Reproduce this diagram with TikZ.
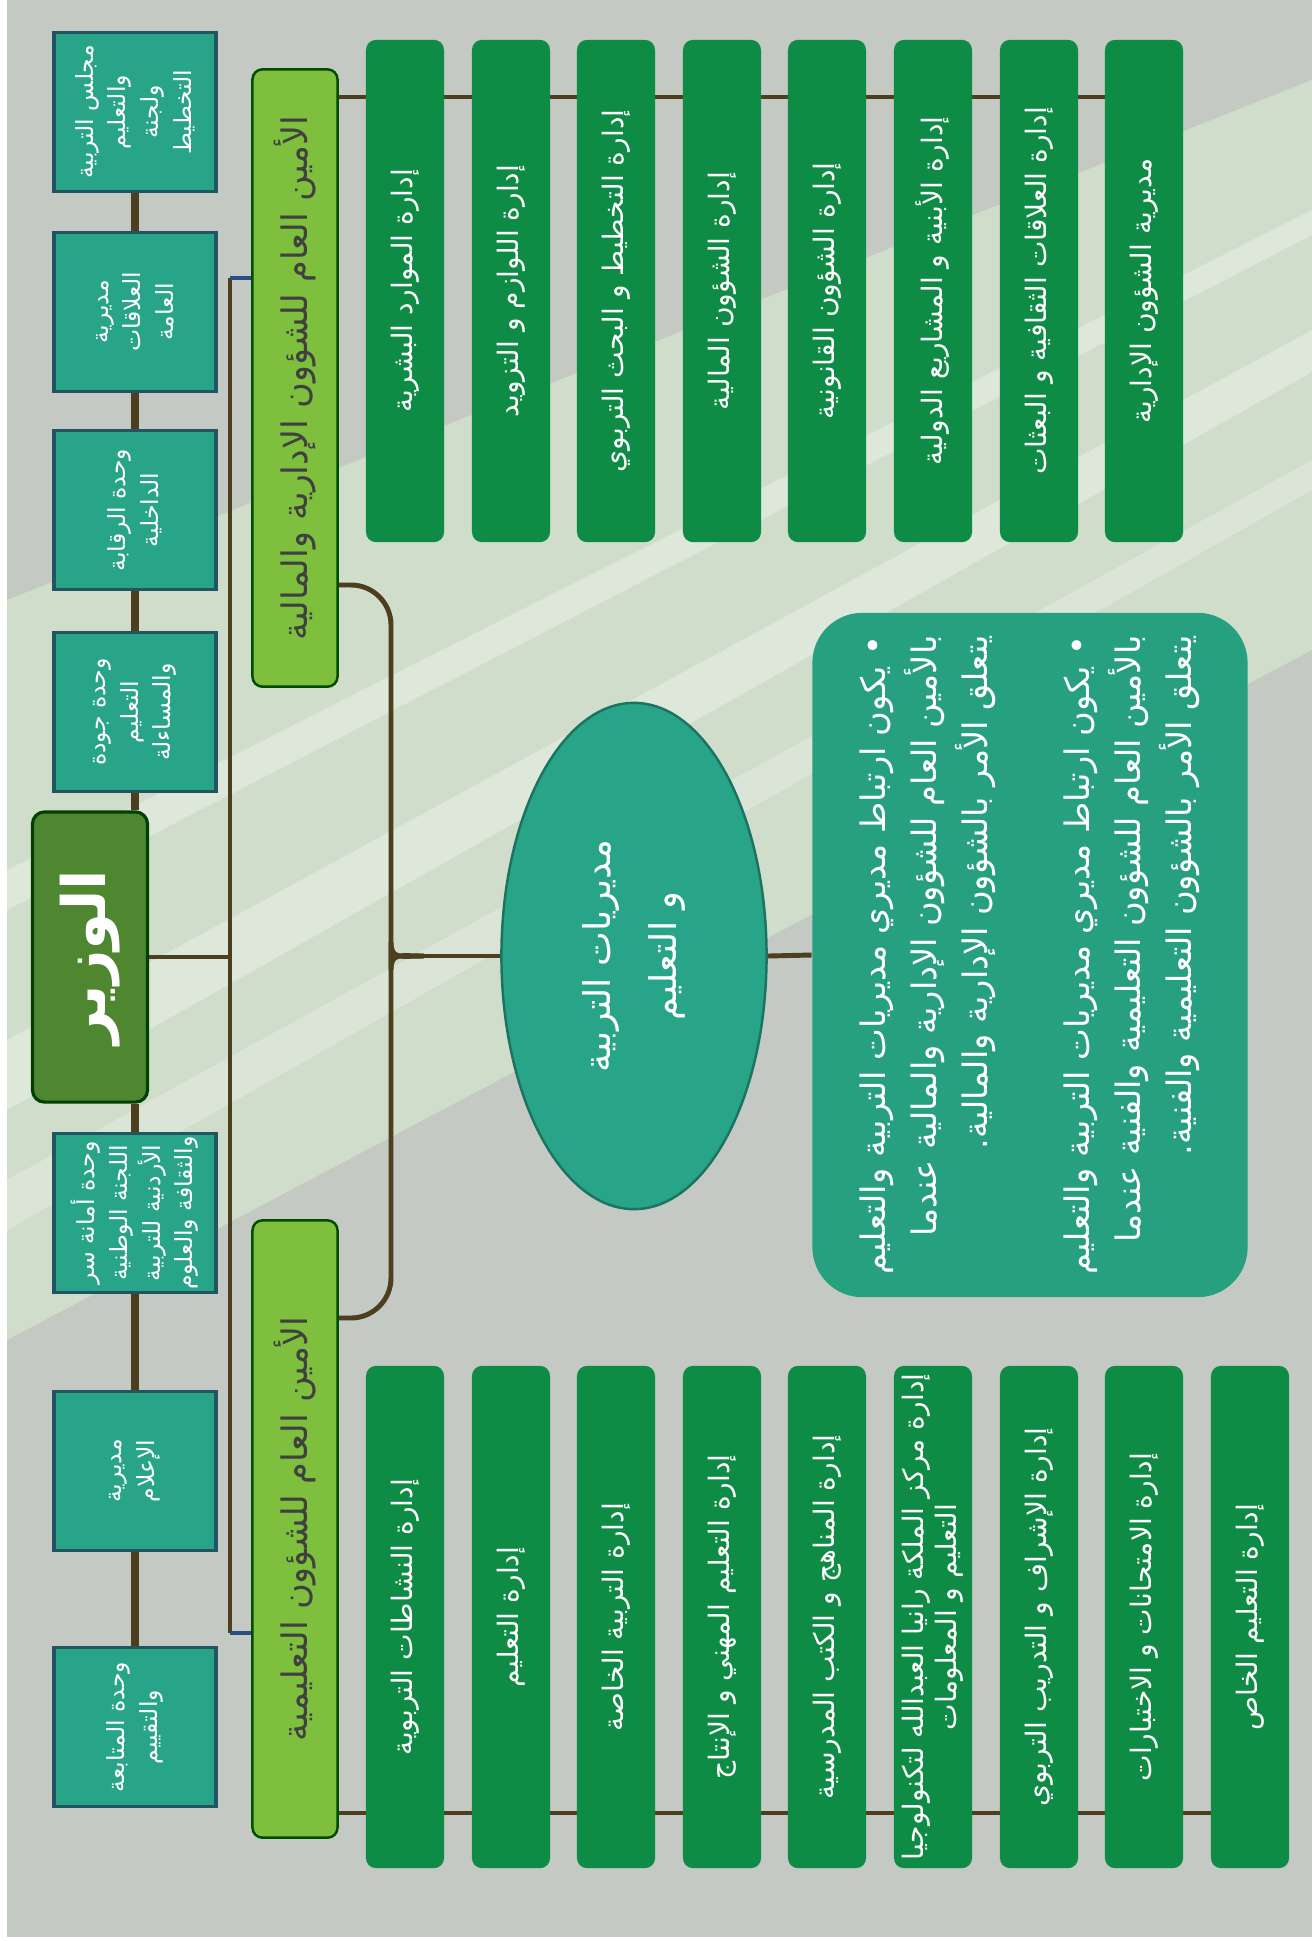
\documentclass[tikz,border=0pt]{standalone}
\usepackage{fontspec}
\usepackage{xcolor}
\usetikzlibrary{shapes.geometric,backgrounds}
\newfontfamily\arabicfont[Script=Arabic]{DejaVu Sans}
\TeXXeTstate=1
\newcommand{\ArLine}[1]{\beginR #1\endR}

\definecolor{BackGray}{RGB}{196,201,195}
\definecolor{BandGreen}{RGB}{212,230,206}
\definecolor{UnitTeal}{RGB}{40,164,137}
\definecolor{UnitEdge}{RGB}{34,84,98}
\definecolor{MinisterGreen}{RGB}{78,135,48}
\definecolor{SecGreen}{RGB}{126,192,62}
\definecolor{DeptGreen}{RGB}{14,139,68}
\definecolor{LinkBrown}{RGB}{76,62,30}
\definecolor{LinkBlue}{RGB}{40,80,130}
\definecolor{NoteTeal}{RGB}{38,160,126}

\begin{document}
\begin{tikzpicture}[x=0.01cm,y=-0.01cm,
  unit/.style={draw=UnitEdge,line width=0.9pt,fill=UnitTeal,text=white,rotate=90,align=center,
    minimum width=1.59cm,minimum height=1.62cm,inner sep=0pt,font=\arabicfont\fontsize{6.7}{9.3}\selectfont},
  minister/.style={draw=black!75!green,line width=0.9pt,fill=MinisterGreen,text=white,rotate=90,rounded corners=0.12cm,
    minimum width=2.9cm,minimum height=1.15cm,inner sep=0pt,font=\arabicfont\bfseries\fontsize{17}{20}\selectfont},
  secbar/.style={draw=black!70!green,line width=0.7pt,fill=SecGreen,text=black!75,rotate=90,rounded corners=0.1cm,
    minimum width=6.17cm,minimum height=0.85cm,inner sep=0pt,font=\arabicfont\fontsize{10}{12}\selectfont},
  dept/.style={fill=DeptGreen,text=white,rotate=90,rounded corners=0.1cm,align=center,
    minimum width=5.02cm,minimum height=0.78cm,inner sep=0pt,font=\arabicfont\fontsize{8}{9.5}\selectfont},
  link/.style={draw=LinkBrown,line width=1.4pt},
  unitlink/.style={draw=LinkBrown,line width=2pt}]

\useasboundingbox (0,0) rectangle (1312,1941);

% background
\begin{scope}[on background layer]
\fill[white] (0,0) rectangle (1312,1941);
\fill[BackGray] (7,0) rectangle (1312,1937);
\fill[BandGreen,opacity=0.7] (7,600) -- (1312,80) -- (1312,650) -- (7,1340) -- cycle;
\fill[white,opacity=0.3] (7,870) -- (1312,210) -- (1312,235) -- (7,910) -- cycle;
\fill[white,opacity=0.3] (7,1040) -- (1312,330) -- (1312,372) -- (7,1110) -- cycle;
\fill[white,opacity=0.25] (7,1180) -- (1312,460) -- (1312,490) -- (7,1230) -- cycle;
\end{scope}


% 1
\node[unit] (UnitA1) at (135,112) {\ArLine{مجلس التربية}\\\ArLine{والتعليم}\\\ArLine{ولجنة}\\\ArLine{التخطيط}};
\node[unit] (UnitA2) at (135,312) {\ArLine{مديرية}\\\ArLine{العلاقات}\\\ArLine{العامة}};
\node[unit] (UnitA3) at (135,510) {\ArLine{وحدة الرقابة}\\\ArLine{الداخلية}};
\node[unit] (UnitA4) at (135,712) {\ArLine{وحدة جودة}\\\ArLine{التعليم}\\\ArLine{والمساءلة}};

\node[minister] (Minister) at (90,957) {\ArLine{الوزير}};

\node[unit] (UnitB1) at (135,1213) {\ArLine{وحدة أمانة سر}\\\ArLine{اللجنة الوطنية}\\\ArLine{الأردنية للتربية}\\\ArLine{والثقافة والعلوم}};
\node[unit] (UnitB2) at (135,1471) {\ArLine{مديرية}\\\ArLine{الإعلام}};
\node[unit] (UnitB3) at (135,1727) {\ArLine{وحدة المتابعة}\\\ArLine{والتقييم}};

% 2
\node[secbar] (SecA) at (295,378) {\ArLine{الأمين العام للشؤون الإدارية والمالية}};
\node[secbar] (SecB) at (295,1529) {\ArLine{الأمين العام للشؤون التعليمية}};

\node[dept] (DeptA1) at (405,291) {\ArLine{إدارة الموارد البشرية}};
\node[dept] (DeptA2) at (511,291) {\ArLine{إدارة اللوازم و التزويد}};
\node[dept] (DeptA3) at (616,291) {\ArLine{إدارة التخطيط و البحث التربوي}};
\node[dept] (DeptA4) at (722,291) {\ArLine{إدارة الشؤون المالية}};
\node[dept] (DeptA5) at (827,291) {\ArLine{إدارة الشؤون القانونية}};
\node[dept] (DeptA6) at (933,291) {\ArLine{إدارة الأبنية و المشاريع الدولية}};
\node[dept] (DeptA7) at (1039,291) {\ArLine{إدارة العلاقات الثقافية و البعثات}};
\node[dept] (DeptA8) at (1144,291) {\ArLine{مديرية الشؤون الإدارية}};

\node[dept] (DeptB1) at (405,1617) {\ArLine{إدارة النشاطات التربوية}};
\node[dept] (DeptB2) at (511,1617) {\ArLine{إدارة التعليم}};
\node[dept] (DeptB3) at (616,1617) {\ArLine{إدارة التربية الخاصة}};
\node[dept] (DeptB4) at (722,1617) {\ArLine{إدارة التعليم المهني و الإنتاج}};
\node[dept] (DeptB5) at (827,1617) {\ArLine{إدارة المناهج و الكتب المدرسية}};
\node[dept] (DeptB6) at (933,1617) {\ArLine{إدارة مركز الملكة رانيا العبدالله لتكنولوجيا}\\\ArLine{التعليم و المعلومات}};
\node[dept] (DeptB7) at (1039,1617) {\ArLine{إدارة الإشراف و التدريب التربوي}};
\node[dept] (DeptB8) at (1144,1617) {\ArLine{إدارة الامتحانات و الاختبارات}};
\node[dept] (DeptB9) at (1250,1617) {\ArLine{إدارة التعليم الخاص}};

% 3
\node[ellipse,draw=UnitTeal!70!black,line width=0.7pt,fill=UnitTeal,text=white,rotate=90,align=center,
  minimum width=5.06cm,minimum height=2.65cm,inner sep=0pt,font=\arabicfont\fontsize{10.5}{19}\selectfont]
  (Directorates) at (634,956) {\ArLine{مديريات التربية}\\\ArLine{و التعليم}};

\node[fill=NoteTeal,text=white,rotate=90,rounded corners=0.5cm,align=right,
  minimum width=6.84cm,minimum height=4.35cm,inner sep=0pt,font=\arabicfont\fontsize{9.6}{14.5}\selectfont]
  (Notes) at (1030,955) {\ArLine{• يكون ارتباط مديري مديريات التربية والتعليم}\\
  \ArLine{بالأمين العام للشؤون الإدارية والمالية عندما}\\
  \ArLine{يتعلق الأمر بالشؤون الإدارية والمالية.}\\[14.5pt]
  \ArLine{• يكون ارتباط مديري مديريات التربية والتعليم}\\
  \ArLine{بالأمين العام للشؤون التعليمية والفنية عندما}\\
  \ArLine{يتعلق الأمر بالشؤون التعليمية والفنية.}};


\coordinate (SpineTop) at (230,278);
\coordinate (SpineBot) at (230,1633);
\coordinate (LineA) at (400,97);
\coordinate (LineB) at (400,1813);
\coordinate (BraceA) at (391,585);
\coordinate (BraceB) at (391,930);
\coordinate (BraceTip) at (424,956);
\coordinate (BraceC) at (391,982);
\coordinate (BraceD) at (391,1318);

\begin{scope}[on background layer]
% left column
\draw[unitlink] (UnitA1) -- (UnitA2);
\draw[unitlink] (UnitA2) -- (UnitA3);
\draw[unitlink] (UnitA3) -- (UnitA4);
\draw[unitlink] (UnitA4) -- (UnitA4 |- Minister.east);
\draw[unitlink] (UnitB1 |- Minister.west) -- (UnitB1);
\draw[unitlink] (UnitB1) -- (UnitB2);
\draw[unitlink] (UnitB2) -- (UnitB3);

% spine
\draw[link] (Minister.south) -- (Minister.south -| SpineTop);
\draw[link] (SpineTop) -- (SpineBot);
\draw[link,draw=LinkBlue] (SpineTop) -- (SecA.north |- SpineTop);
\draw[link,draw=LinkBlue] (SpineBot) -- (SecB.north |- SpineBot);

% departments
\draw[link] (SecA.south |- LineA) -- (DeptA8 |- LineA);
\draw[link] (SecB.south |- LineB) -- (DeptB9 |- LineB);

% brace
\draw[link,rounded corners=0.4cm] (SecA.south |- BraceA) -- (BraceA) -- (BraceB) [sharp corners] .. controls (391,952) and (400,956) .. (BraceTip);
\draw[link,rounded corners=0.4cm] (SecB.south |- BraceD) -- (BraceD) -- (BraceC) [sharp corners] .. controls (391,960) and (400,956) .. (BraceTip);
\draw[link] (BraceTip) -- (Directorates.north);
\draw[link] (Directorates.south) -- (Notes.north);
\end{scope}

\end{tikzpicture}
\end{document}
